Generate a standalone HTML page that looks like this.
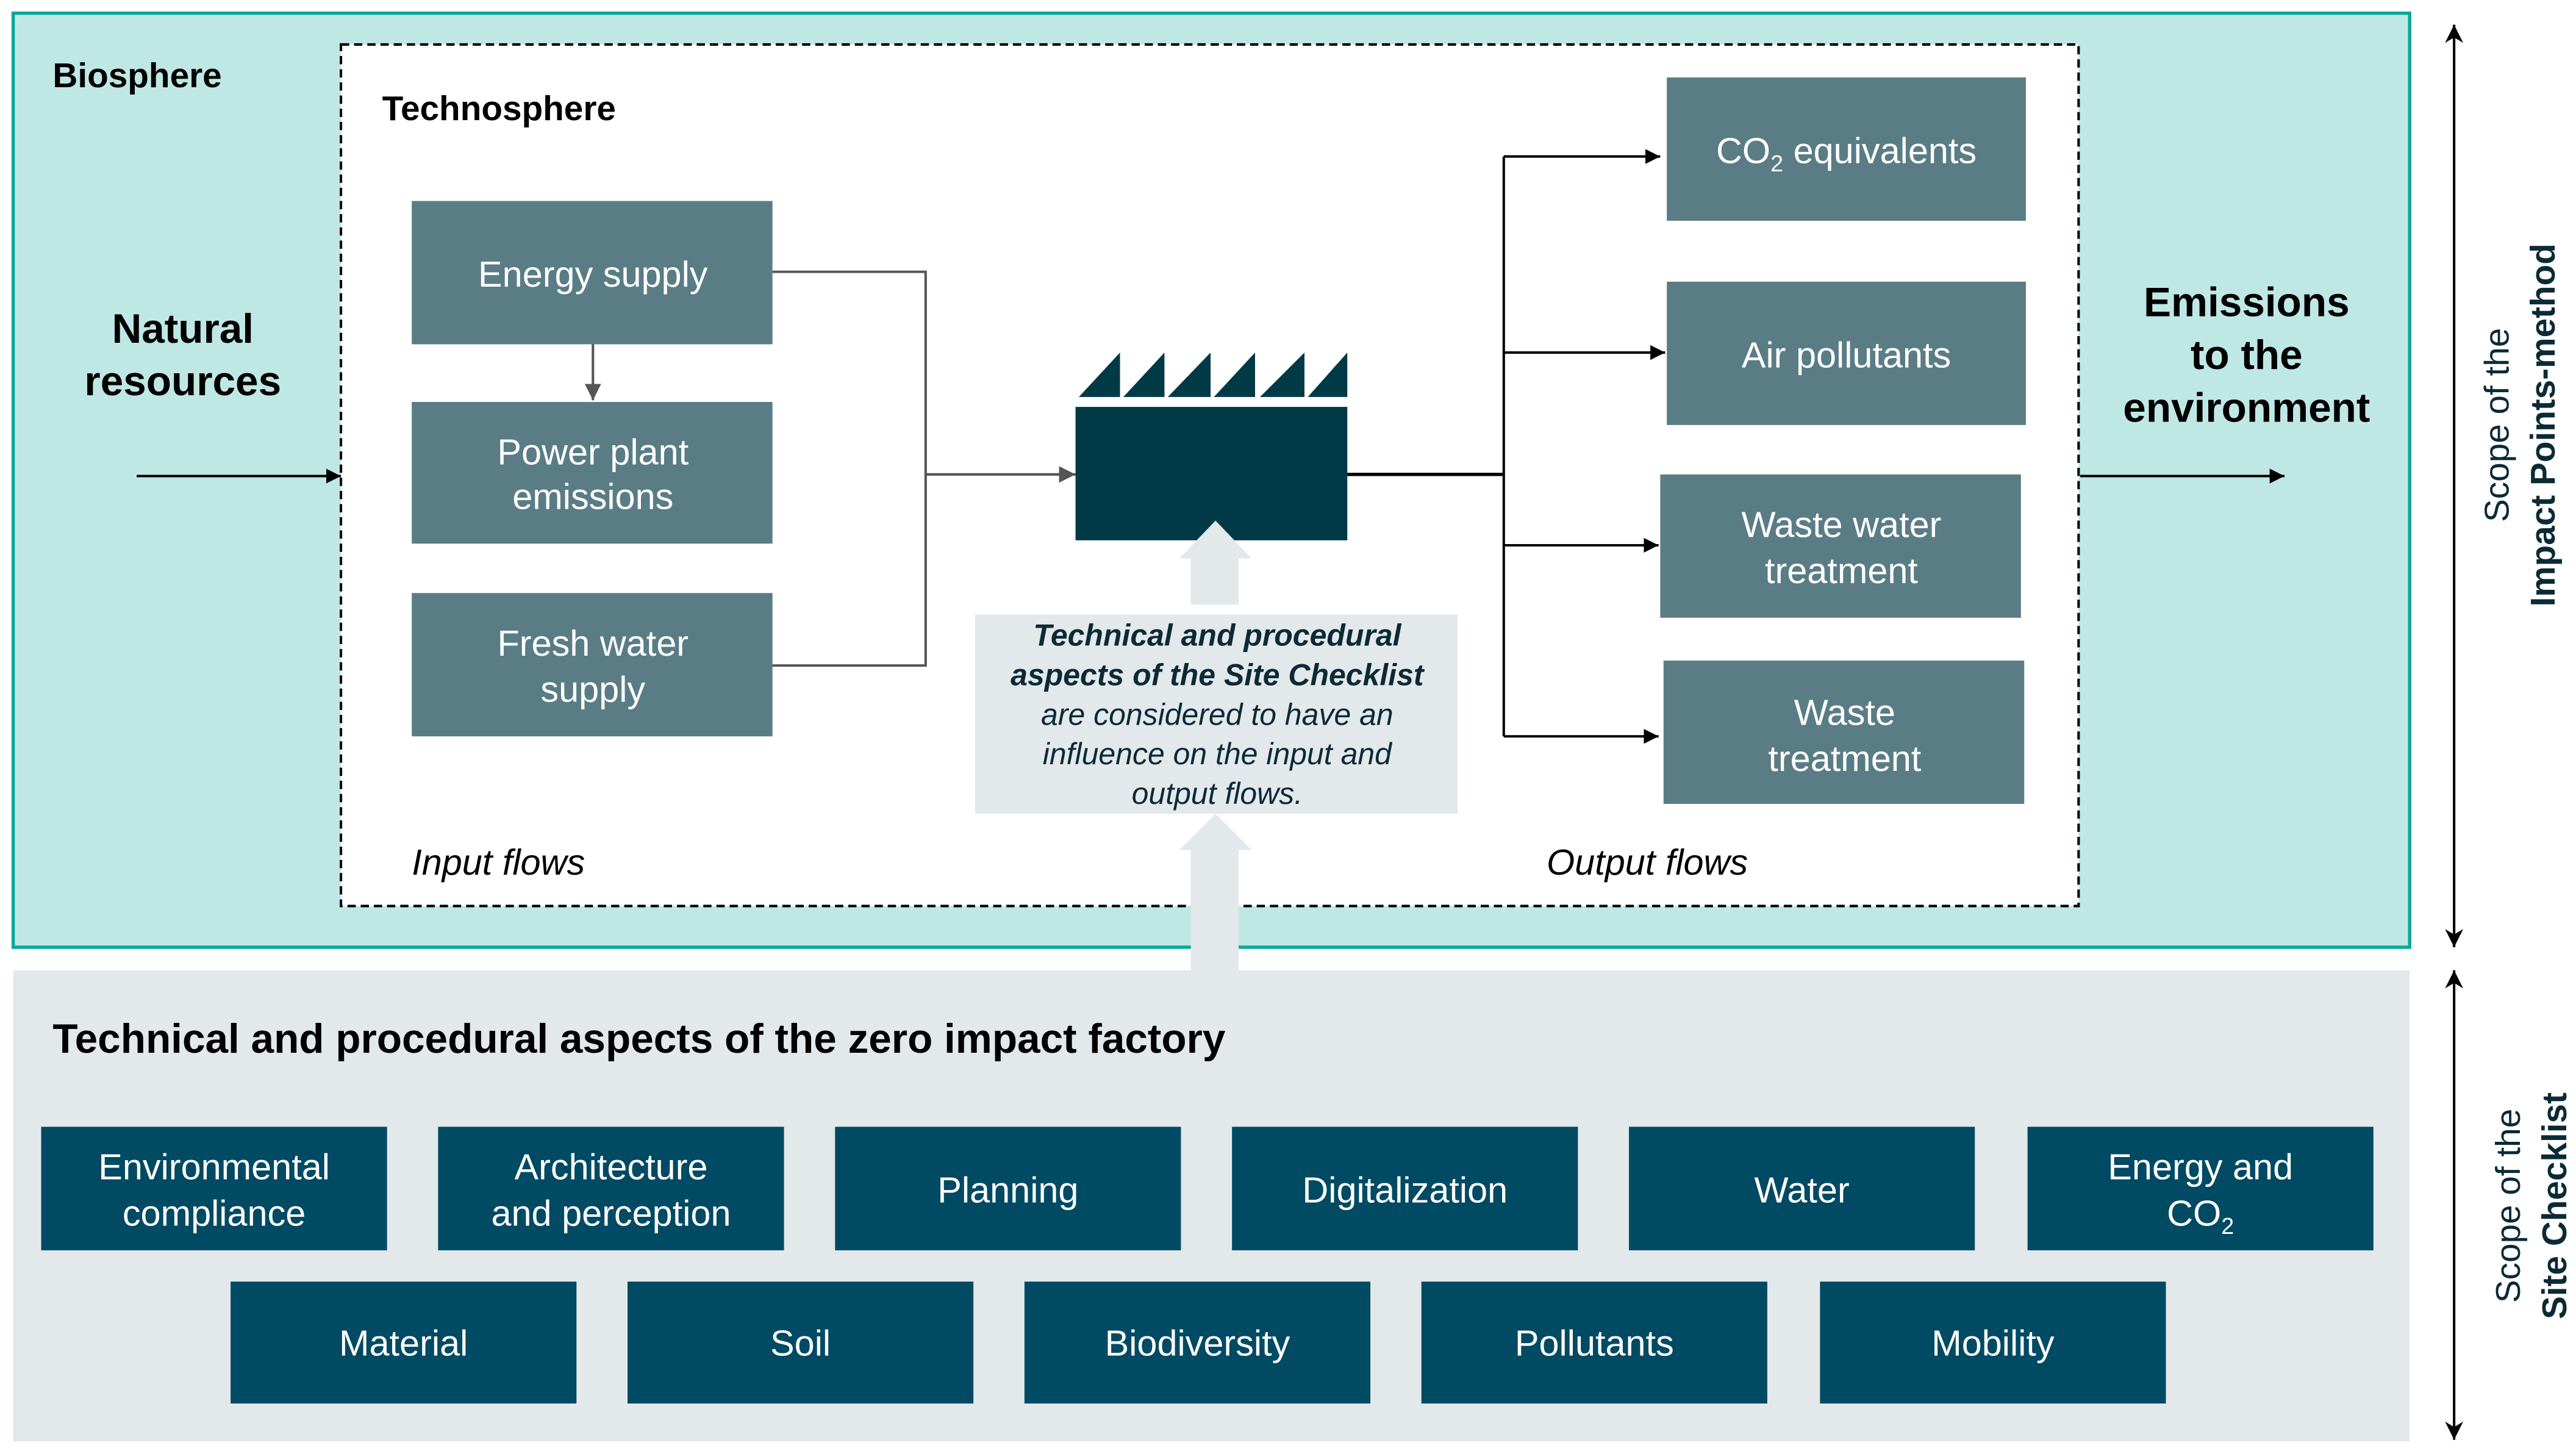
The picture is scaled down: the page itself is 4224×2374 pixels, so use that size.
<!DOCTYPE html>
<html><head><meta charset="utf-8"><style>
html,body{margin:0;padding:0;background:#fff}
svg{display:block}
text{font-family:"Liberation Sans",sans-serif}
</style></head><body>
<svg width="4224" height="2374" viewBox="0 0 1564 879" xmlns="http://www.w3.org/2000/svg">
<defs>
<marker id="ab" viewBox="0 0 10 10" refX="10" refY="5" markerWidth="9" markerHeight="9" markerUnits="userSpaceOnUse" orient="auto"><path d="M0,0 L10,5 L0,10 z" fill="#000"/></marker>
<marker id="ag" viewBox="0 0 10 10" refX="10" refY="5" markerWidth="10" markerHeight="10" markerUnits="userSpaceOnUse" orient="auto"><path d="M0,0 L10,5 L0,10 z" fill="#555"/></marker>
<marker id="ad" viewBox="0 0 10 10" refX="10" refY="5" markerWidth="11" markerHeight="14" markerUnits="userSpaceOnUse" orient="auto-start-reverse"><path d="M0,0 L10,5 L0,10 L3,5 z" fill="#000"/></marker>
</defs>
<rect x="8" y="8" width="1455" height="567" fill="#bfe8e5" stroke="#0aa89a" stroke-width="2"/>
<rect x="8" y="589" width="1455" height="286" fill="#e3e8eb"/>
<rect x="207" y="27" width="1055" height="523" fill="#fff" stroke="#000" stroke-width="1.5" stroke-dasharray="5,3"/>

<text x="32" y="53" font-size="21" font-weight="bold" fill="#000">Biosphere</text>
<text x="232" y="73" font-size="21" font-weight="bold" fill="#000">Technosphere</text>
<text x="111" y="208" font-size="25" font-weight="bold" text-anchor="middle">Natural</text>
<text x="111" y="240" font-size="25" font-weight="bold" text-anchor="middle">resources</text>
<text x="1364" y="192" font-size="25" font-weight="bold" text-anchor="middle">Emissions</text>
<text x="1364" y="224" font-size="25" font-weight="bold" text-anchor="middle">to the</text>
<text x="1364" y="256" font-size="25" font-weight="bold" text-anchor="middle">environment</text>
<line x1="83" y1="289" x2="207" y2="289" stroke="#000" stroke-width="1.5" marker-end="url(#ab)"/>
<line x1="1263" y1="289" x2="1387" y2="289" stroke="#000" stroke-width="1.5" marker-end="url(#ab)"/>

<g fill="#5a7d85">
<rect x="250" y="122" width="219" height="87"/>
<rect x="250" y="244" width="219" height="86"/>
<rect x="250" y="360" width="219" height="87"/>
<rect x="1012" y="47" width="218" height="87"/>
<rect x="1012" y="171" width="218" height="87"/>
<rect x="1008" y="288" width="219" height="87"/>
<rect x="1010" y="401" width="219" height="87"/>
</g>
<g fill="#fff" font-size="22" text-anchor="middle">
<text x="360" y="174">Energy supply</text>
<text x="360" y="282">Power plant</text>
<text x="360" y="309">emissions</text>
<text x="360" y="398">Fresh water</text>
<text x="360" y="426">supply</text>
<text x="1121" y="99">CO<tspan font-size="14" dy="5">2</tspan><tspan dy="-5"> equivalents</tspan></text>
<text x="1121" y="223">Air pollutants</text>
<text x="1118" y="326">Waste water</text>
<text x="1118" y="354">treatment</text>
<text x="1120" y="440">Waste</text>
<text x="1120" y="468">treatment</text>
</g>
<line x1="360" y1="209" x2="360" y2="243" stroke="#555" stroke-width="1.5" marker-end="url(#ag)"/>
<polyline points="469,165 562,165 562,404 469,404" fill="none" stroke="#555" stroke-width="1.5"/>
<line x1="562" y1="288" x2="653" y2="288" stroke="#555" stroke-width="1.5" marker-end="url(#ag)"/>

<g fill="#003a47">
<rect x="653" y="247" width="165" height="81"/>
<path d="M655,241 L680,214 L680,241z M682,241 L707,214 L707,241z M709,241 L735,214 L735,241z M737,241 L762,214 L762,241z M765,241 L792,214 L792,241z M794,241 L818,214 L818,241z"/>
</g>
<g fill="#e3e8eb">
<path d="M738,316 L760,339 L752,339 L752,367 L723,367 L723,339 L716,339z"/>
<rect x="592" y="373" width="293" height="121"/>
<path d="M738,494 L760,516 L752,516 L752,589 L723,589 L723,516 L716,516z"/>
</g>
<g fill="#0b2a36" font-size="18.5" font-style="italic" text-anchor="middle">
<text x="739" y="392" font-weight="bold">Technical and procedural</text>
<text x="739" y="416" font-weight="bold">aspects of the Site Checklist</text>
<text x="739" y="440">are considered to have an</text>
<text x="739" y="464">influence on the input and</text>
<text x="739" y="488">output flows.</text>
</g>

<line x1="818" y1="288" x2="913" y2="288" stroke="#000" stroke-width="2"/>
<line x1="913" y1="95" x2="913" y2="447" stroke="#000" stroke-width="1.5"/>
<line x1="913" y1="95" x2="1008" y2="95" stroke="#000" stroke-width="1.5" marker-end="url(#ab)"/>
<line x1="913" y1="214" x2="1011" y2="214" stroke="#000" stroke-width="1.5" marker-end="url(#ab)"/>
<line x1="913" y1="331" x2="1007" y2="331" stroke="#000" stroke-width="1.5" marker-end="url(#ab)"/>
<line x1="913" y1="447" x2="1007" y2="447" stroke="#000" stroke-width="1.5" marker-end="url(#ab)"/>

<text x="250" y="531" font-size="22" font-style="italic" fill="#000">Input flows</text>
<text x="939" y="531" font-size="22" font-style="italic" fill="#000">Output flows</text>

<text x="32" y="639" font-size="25" font-weight="bold" fill="#000">Technical and procedural aspects of the zero impact factory</text>

<g fill="#004a63">
<rect x="25" y="684" width="210" height="75"/>
<rect x="266" y="684" width="210" height="75"/>
<rect x="507" y="684" width="210" height="75"/>
<rect x="748" y="684" width="210" height="75"/>
<rect x="989" y="684" width="210" height="75"/>
<rect x="1231" y="684" width="210" height="75"/>
<rect x="140" y="778" width="210" height="74"/>
<rect x="381" y="778" width="210" height="74"/>
<rect x="622" y="778" width="210" height="74"/>
<rect x="863" y="778" width="210" height="74"/>
<rect x="1105" y="778" width="210" height="74"/>
</g>
<g fill="#fff" font-size="22" text-anchor="middle">
<text x="130" y="716">Environmental</text>
<text x="130" y="744">compliance</text>
<text x="371" y="716">Architecture</text>
<text x="371" y="744">and perception</text>
<text x="612" y="730">Planning</text>
<text x="853" y="730">Digitalization</text>
<text x="1094" y="730">Water</text>
<text x="1336" y="716">Energy and</text>
<text x="1336" y="744">CO<tspan font-size="14" dy="5">2</tspan></text>
<text x="245" y="823">Material</text>
<text x="486" y="823">Soil</text>
<text x="727" y="823">Biodiversity</text>
<text x="968" y="823">Pollutants</text>
<text x="1210" y="823">Mobility</text>
</g>

<line x1="1490" y1="15" x2="1490" y2="575" stroke="#000" stroke-width="1.5" marker-start="url(#ad)" marker-end="url(#ad)"/>
<line x1="1490" y1="589" x2="1490" y2="874" stroke="#000" stroke-width="1.5" marker-start="url(#ad)" marker-end="url(#ad)"/>
<g fill="#0b2a36" font-size="21" text-anchor="middle">
<text transform="translate(1523,258) rotate(-90)">Scope of the</text>
<text transform="translate(1551,258) rotate(-90)" font-weight="bold">Impact Points-method</text>
<text transform="translate(1530,732) rotate(-90)">Scope of the</text>
<text transform="translate(1558,732) rotate(-90)" font-weight="bold">Site Checklist</text>
</g>
</svg>
</body></html>
